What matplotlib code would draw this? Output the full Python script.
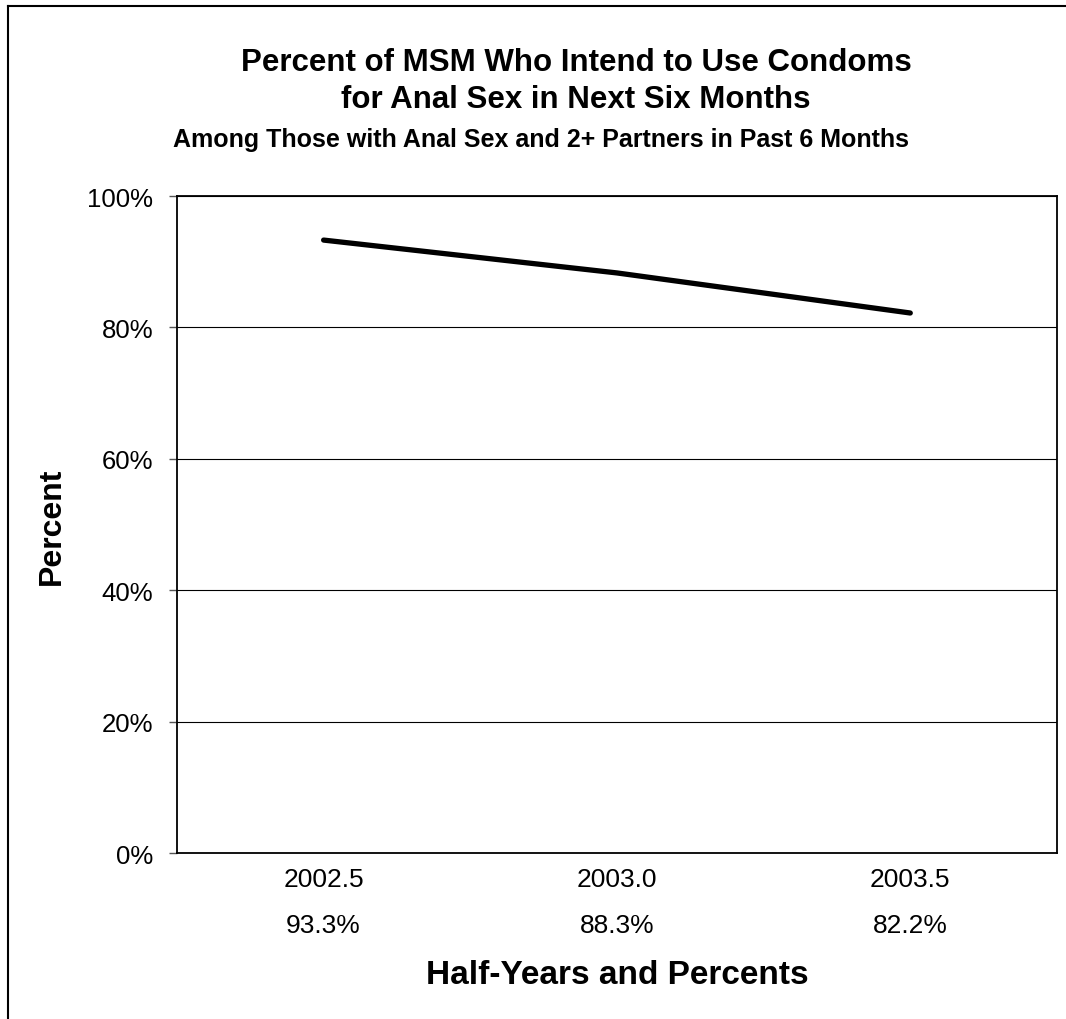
import matplotlib
matplotlib.use('Agg')
import matplotlib.pyplot as plt
from matplotlib.lines import Line2D

plt.rcParams['font.family'] = ['Liberation Sans', 'DejaVu Sans']

# data
half_years = ['2002.5', '2003.0', '2003.5']
percents   = [93.3, 88.3, 82.2]
pct_labels = ['93.3%', '88.3%', '82.2%']
y_ticks    = [0, 20, 40, 60, 80, 100]

fig = plt.figure(figsize=(10.66, 10.20), dpi=100)
ax = fig.add_axes([0.1660, 0.1627, 0.8255, 0.6441])

x = list(range(len(half_years)))
ax.plot(x, percents, color='black', linewidth=3.8, solid_capstyle='round')

ax.set_xlim(-0.5, len(half_years) - 0.5)
ax.set_ylim(0, 100)
ax.set_yticks(y_ticks)
ax.set_yticklabels([f'{v}%' for v in y_ticks], fontsize=18.5)
ax.yaxis.grid(True, color='black', linewidth=0.8)
ax.set_axisbelow(True)

ax.set_xticks(x)
ax.set_xticklabels([f'{h}\n{p}' for h, p in zip(half_years, pct_labels)],
                   fontsize=19, linespacing=2.15)
ax.tick_params(axis='x', length=0, pad=10)
ax.tick_params(axis='y', length=6, width=1, color='#555555', pad=11)

for s in ax.spines.values():
    s.set_linewidth(1.3)
    s.set_color('black')

ax.set_xlabel('Half-Years and Percents', fontsize=24, fontweight='bold')
ax.xaxis.set_label_coords(0.5, -(975 - 854) / 657, transform=ax.transAxes)
ax.xaxis.label.set_va('center')
ax.set_ylabel('Percent', fontsize=23, fontweight='bold')
ax.yaxis.set_label_coords(-(177 - 52) / 880, (854 - 526) / 657)
ax.yaxis.label.set_va('center')

fig.text(0.5405, 1 - 63 / 1020, 'Percent of MSM Who Intend to Use Condoms',
         ha='center', va='center', fontsize=22.5, fontweight='bold')
fig.text(0.5405, 1 - 100 / 1020, 'for Anal Sex in Next Six Months',
         ha='center', va='center', fontsize=22.5, fontweight='bold')
fig.text(0.5075, 1 - 140 / 1020, 'Among Those with Anal Sex and 2+ Partners in Past 6 Months',
         ha='center', va='center', fontsize=18, fontweight='bold')

# outer chart border (cropped on right and bottom)
fig.add_artist(Line2D([8 / 1066, 8 / 1066], [0, 1 - 7 / 1020], color='black', linewidth=1.5))
fig.add_artist(Line2D([8 / 1066, 1], [1 - 7 / 1020, 1 - 7 / 1020], color='black', linewidth=1.5))

fig.savefig('out.png', dpi=100, facecolor='white')
